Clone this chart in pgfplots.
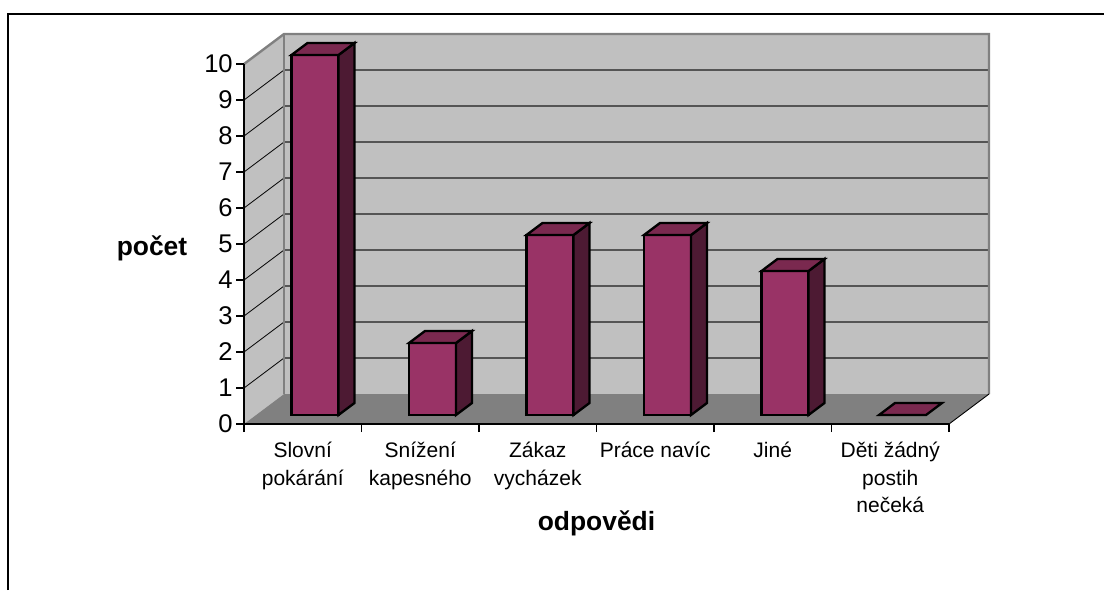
\documentclass[border=0pt]{standalone}
\usepackage{fontspec}
\setmainfont{Liberation Sans}
\usepackage{pgfplots}
\pgfplotsset{compat=1.18}

\definecolor{wall}{HTML}{C0C0C0}
\definecolor{walledge}{HTML}{808080}
\definecolor{floorc}{HTML}{808080}
\definecolor{gridc}{HTML}{555555}
\definecolor{barface}{HTML}{993366}
\definecolor{barside}{HTML}{4D1A33}
\definecolor{bartop}{HTML}{7A294F}

% one pixel of the reference
\newlength{\px}
\setlength{\px}{0.75pt}

% depth of the walls in axis units
\def\wx{0.3404}
\def\wy{0.8333}

% box for category #1 with value #2
\newcommand{\threedbar}[2]{%
  \pgfmathsetmacro\xa{#1+0.4043}%
  \pgfmathsetmacro\xb{\xa+0.4}%
  \pgfmathsetmacro\xc{\xb+0.136}%
  \pgfmathsetmacro\xd{\xa+0.136}%
  \pgfmathsetmacro\ya{0.25}%
  \pgfmathsetmacro\yb{#2+0.25}%
  \pgfmathsetmacro\yc{\yb+0.3333}%
  \pgfmathsetmacro\yd{\ya+0.3333}%
  \ifdim#2pt>0pt
    \edef\tmp{\noexpand\addplot[fill=barface,draw=black,line width=1.75pt] coordinates {(\xa,\ya)(\xb,\ya)(\xb,\yb)(\xa,\yb)} --cycle;
      \noexpand\addplot[fill=barside,draw=black,line width=1.75pt] coordinates {(\xb,\ya)(\xc,\yd)(\xc,\yc)(\xb,\yb)} --cycle;}%
    \tmp
  \fi
  \edef\tmp{\noexpand\addplot[fill=bartop,draw=black,line width=1.75pt] coordinates {(\xa,\yb)(\xb,\yb)(\xc,\yc)(\xd,\yc)} --cycle;}%
  \tmp
}

\begin{document}
\begin{tikzpicture}[line join=miter]
\begin{axis}[
    scale only axis,
    width=705\px,
    height=360\px,
    xmin=0, xmax=6,
    ymin=0, ymax=10,
    clip=false,
    axis on top,
    axis x line*=bottom,
    axis y line*=left,
    axis line style={-,black,line width=0.9pt},
    tick style={black,line width=0.9pt},
    xtick={0.5,1.5,2.5,3.5,4.5,5.5},
    xticklabels={Slovní\\pokárání, Snížení\\kapesného, Zákaz\\vycházek, Práce navíc, Jiné, Děti žádný\\postih\\nečeká},
    minor xtick={0,1,2,3,4,5,6},
    ytick={0,1,...,10},
    major x tick style={draw=none},
    minor tick length=8\px,
    major tick length=8\px,
    tickwidth=8\px,
    subtickwidth=8\px,
    xtick align=outside,
    ytick align=outside,
    /pgf/number format/assume math mode=true,
    yticklabel style={font=\fontsize{19.2}{22}\selectfont,inner sep=0pt,xshift=-3\px},
    xticklabel style={font=\fontsize{15.75}{20.6}\selectfont,align=center,anchor=north,inner sep=0pt,yshift=-10\px},
    xlabel={odpovědi},
    ylabel={počet},
    every axis x label/.style={at={(axis cs:3,-2.75)},anchor=center,font=\fontsize{19.8}{24}\bfseries},
    every axis y label/.style={at={(axis cs:-0.783,4.89)},anchor=center,font=\fontsize{19.8}{24}\bfseries},
]
% walls and floor
\addplot[fill=wall,draw=none] coordinates {(\wx,\wy)(6.3404,\wy)(6.3404,10.8333)(\wx,10.8333)} --cycle;
\addplot[fill=wall,draw=none] coordinates {(0,0)(\wx,\wy)(\wx,10.8333)(0,10)} --cycle;
\addplot[fill=floorc,draw=none] coordinates {(0,0)(6,0)(6.3404,\wy)(\wx,\wy)} --cycle;
% grid on the back wall
\pgfplotsinvokeforeach{1,...,9}{
  \addplot[gridc,line width=0.9pt] coordinates {(\wx,#1+\wy)(6.3404,#1+\wy)};
  \addplot[black,line width=0.6pt] coordinates {(0,#1)(\wx,#1+\wy)};
}
% wall edges
\addplot[walledge,line width=1.8pt] coordinates {(0,10)(\wx,10.8333)(6.3404,10.8333)(6.3404,\wy)};
\addplot[walledge,line width=1.8pt] coordinates {(\wx,10.8333)(\wx,\wy)};
\addplot[black,line width=0.7pt] coordinates {(6,0)(6.3404,\wy)};
% boxes
\threedbar{0}{10}
\threedbar{1}{2}
\threedbar{2}{5}
\threedbar{3}{5}
\threedbar{4}{4}
\threedbar{5}{0}
% chart frame, open to the right and the bottom
\draw[black,line width=1.2pt] (axis cs:-2.0085,-4.611) -- (axis cs:-2.0085,11.3889) -- (axis cs:7.3191,11.3889);
\coordinate (bbA) at (axis cs:-2.0766,-4.6111);
\coordinate (bbB) at (axis cs:7.3191,11.7778);
\end{axis}
\pgfresetboundingbox
\path[use as bounding box] (bbA) rectangle (bbB);
\end{tikzpicture}
\end{document}
